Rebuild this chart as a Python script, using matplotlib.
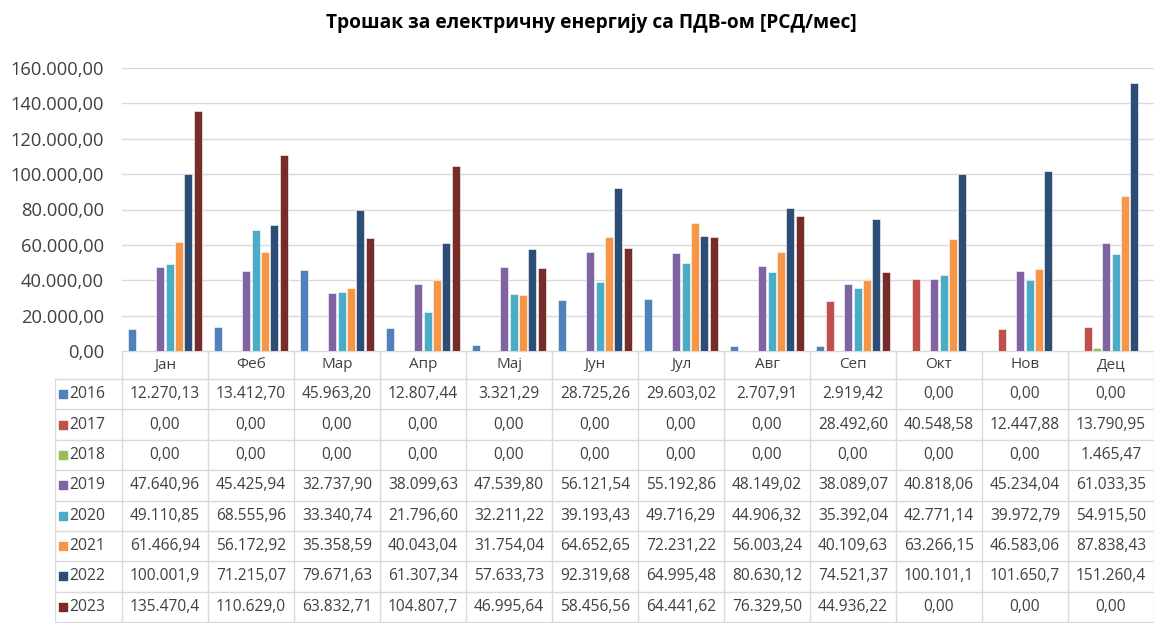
import matplotlib.pyplot as plt
import numpy as np

plt.rcParams['font.family'] = ['Open Sans', 'DejaVu Sans']

months = ['Јан', 'Феб', 'Мар', 'Апр', 'Мај', 'Јун', 'Јул', 'Авг', 'Сеп', 'Окт', 'Нов', 'Дец']
years = ['2016', '2017', '2018', '2019', '2020', '2021', '2022', '2023']

y2016 = [12270.13, 13412.70, 45963.20, 12807.44, 3321.29, 28725.26, 29603.02, 2707.91, 2919.42, 0, 0, 0]
y2017 = [0, 0, 0, 0, 0, 0, 0, 0, 28492.60, 40548.58, 12447.88, 13790.95]
y2018 = [0, 0, 0, 0, 0, 0, 0, 0, 0, 0, 0, 1465.47]
y2019 = [47640.96, 45425.94, 32737.90, 38099.63, 47539.80, 56121.54, 55192.86, 48149.02, 38089.07, 40818.06, 45234.04, 61033.35]
y2020 = [49110.85, 68555.96, 33340.74, 21796.60, 32211.22, 39193.43, 49716.29, 44906.32, 35392.04, 42771.14, 39972.79, 54915.50]
y2021 = [61466.94, 56172.92, 35358.59, 40043.04, 31754.04, 64652.65, 72231.22, 56003.24, 40109.63, 63266.15, 46583.06, 87838.43]
y2022 = [100001.90, 71215.07, 79671.63, 61307.34, 57633.73, 92319.68, 64995.48, 80630.12, 74521.37, 100101.10, 101650.70, 151260.40]
y2023 = [135470.40, 110629.00, 63832.71, 104807.70, 46995.64, 58456.56, 64441.62, 76329.50, 44936.22, 0, 0, 0]

series = [y2016, y2017, y2018, y2019, y2020, y2021, y2022, y2023]
colors = ['#4F81BD', '#C0504D', '#9BBB59', '#8064A2', '#4BACC6', '#F79646', '#2C4D75', '#772C2A']


def fmt(v, n=None):
    s = f'{v:,.2f}'.replace(',', ' ').replace('.', ',').replace(' ', '.')
    return s[:n] if n else s


W, H = 1158, 623
fig = plt.figure(figsize=(W / 100, H / 100), dpi=100)

# plot area in pixels
left, right = 122, 1154
top, bottom = 68, 351
ax = fig.add_axes([left / W, 1 - bottom / H, (right - left) / W, (bottom - top) / H])

x = np.arange(len(months))
slot = 0.108
for i, vals in enumerate(series):
    ax.bar(x + (i - 3.5) * slot, vals, width=slot * 0.86, color=colors[i],
           edgecolor='white', linewidth=0.4, zorder=3)

ax.set_xlim(-0.5, 11.5)
ax.set_ylim(0, 160000)
ticks = np.arange(0, 160001, 20000)
ax.set_yticks(ticks)
ax.set_yticklabels([fmt(v) for v in ticks], fontsize=13.2, color='#404040')
ax.yaxis.grid(True, color='#d9d9d9', linewidth=1)
ax.set_xticks([])
for s in ax.spines.values():
    s.set_visible(False)
ax.tick_params(axis='y', length=0, pad=13)

fig.text(591 / W, 1 - 23 / H, 'Трошак за електричну енергију са ПДВ-ом [РСД/мес]',
         ha='center', va='center', fontsize=13.8, fontweight='bold', color='#000000')

# data table below
tleft = 55
tab = fig.add_axes([tleft / W, 0, (right - tleft) / W, (H - bottom) / H])
ux = (right - left) / 12.0
xl = -0.5 - (left - tleft) / ux
tab.set_xlim(xl, 11.5)
head_h = 28
row_h = (H - 1 - bottom - head_h) / 8.0
tab.set_ylim(H, bottom)  # pixel rows, top to bottom
tab.axis('off')

gc = '#d9d9d9'
# header row
for j in range(13):
    tab.plot([j - 0.5, j - 0.5], [bottom, bottom + head_h], color=gc, lw=1)
tab.plot([-0.5, 11.5], [bottom, bottom], color=gc, lw=1)
for j, m in enumerate(months):
    tab.text(j, bottom + head_h / 2, m, ha='center', va='center', fontsize=11, color='#404040')
# body rows
for r in range(9):
    yy = bottom + head_h + r * row_h
    tab.plot([xl, 11.5], [yy, yy], color=gc, lw=1)
for xv in [xl] + [j - 0.5 for j in range(13)]:
    tab.plot([xv, xv], [bottom + head_h, H - 1], color=gc, lw=1)

for r, (yr, vals) in enumerate(zip(years, series)):
    yc = bottom + head_h + (r + 0.5) * row_h
    tab.scatter([xl + 0.09], [yc], marker='s', s=32, color=colors[r])
    tab.text(xl + 0.17, yc, yr, ha='left', va='center', fontsize=11.3, color='#404040')
    for j, v in enumerate(vals):
        tab.text(j, yc, fmt(v, 9), ha='center', va='center', fontsize=11.2, color='#404040')

fig.savefig('out.png', dpi=100)
